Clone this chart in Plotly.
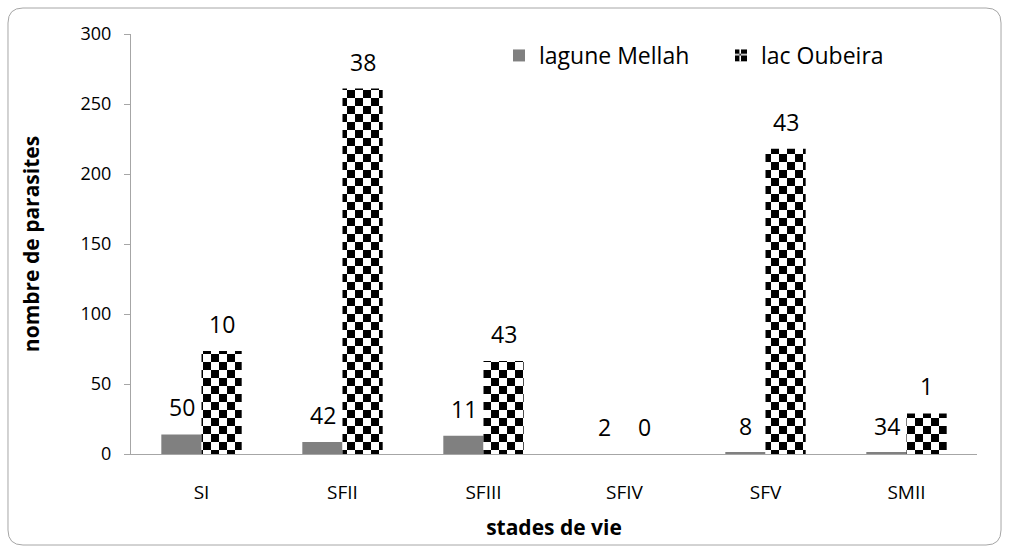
import plotly.graph_objects as go

categories = ["SI", "SFII", "SFIII", "SFIV", "SFV", "SMII"]
mellah_values = [14, 8.5, 13, 0, 1, 1]
oubeira_values = [73.5, 261, 66.5, 0, 218, 29]
mellah_labels = ["50", "42", "11", "2", "8", "34"]
oubeira_labels = ["10", "38", "43", "0", "43", "1"]
y_ticks = [0, 50, 100, 150, 200, 250, 300]

FONT = "Open Sans"

fig = go.Figure()
fig.add_trace(go.Bar(name="lagune Mellah", x=categories, y=mellah_values,
                     marker=dict(color="#808080", line=dict(width=0))))

try:
    pattern = go.bar.marker.Pattern(path="M0,0H8V8H0Z M8,8H16V16H8Z", fgcolor="black",
                                    bgcolor="white", size=16, fillmode="replace")
except Exception:
    pattern = dict(shape="+", fgcolor="black", bgcolor="white", size=16, solidity=0.5, fillmode="replace")

fig.add_trace(go.Bar(name="lac Oubeira", x=categories, y=oubeira_values,
                     marker=dict(color="white", pattern=pattern, line=dict(width=0))))

for i, c in enumerate(categories):
    fig.add_annotation(x=c, y=mellah_values[i], text=mellah_labels[i], showarrow=False,
                       xshift=-20, yshift=27, font=dict(size=23, color="black", family=FONT))
    fig.add_annotation(x=c, y=oubeira_values[i], text=oubeira_labels[i], showarrow=False,
                       xshift=20, yshift=27, font=dict(size=23, color="black", family=FONT))

# rounded chart frame (paper coords)
x0, x1, y0, y1 = -0.1454, 1.0284, -0.2167, 1.0619
rx, ry = 0.0177, 0.0357
frame = (f"M {x0},{y0+ry} L {x0},{y1-ry} Q {x0},{y1} {x0+rx},{y1} L {x1-rx},{y1} "
         f"Q {x1},{y1} {x1},{y1-ry} L {x1},{y0+ry} Q {x1},{y0} {x1-rx},{y0} "
         f"L {x0+rx},{y0} Q {x0},{y0} {x0},{y0+ry} Z")
fig.add_shape(type="path", xref="paper", yref="paper", path=frame,
              line=dict(color="#a6a6a6", width=1))

fig.update_layout(
    width=1010, height=552,
    margin=dict(l=131, r=33, t=34, b=98),
    paper_bgcolor="white", plot_bgcolor="white",
    barmode="group", bargap=0.43, bargroupgap=0,
    font=dict(family=FONT, color="black"),
    showlegend=True,
    legend=dict(orientation="h", x=0.435, y=1.0, yanchor="top", xanchor="left",
                entrywidth=177, entrywidthmode="pixels",
                font=dict(size=23, family=FONT), bgcolor="rgba(0,0,0,0)"),
    xaxis=dict(showline=True, linecolor="#a6a6a6", linewidth=1, ticks="",
               ticklabelstandoff=21,
               tickfont=dict(size=19, family=FONT),
               title=dict(text="<b>stades de vie</b>", font=dict(size=21, family=FONT), standoff=16)),
    yaxis=dict(range=[0, 300], tickvals=y_ticks, showgrid=False, zeroline=False,
               showline=True, linecolor="#a6a6a6", linewidth=1, ticks="outside",
               ticklen=6, tickcolor="#a6a6a6", ticklabelstandoff=9,
               tickfont=dict(size=18, family=FONT),
               title=dict(text="<b>nombre de parasites</b>", font=dict(size=21, family=FONT), standoff=35)),
)

fig.write_html("out.html", config={"displayModeBar": False},
               post_script="document.body.style.margin='0';")
